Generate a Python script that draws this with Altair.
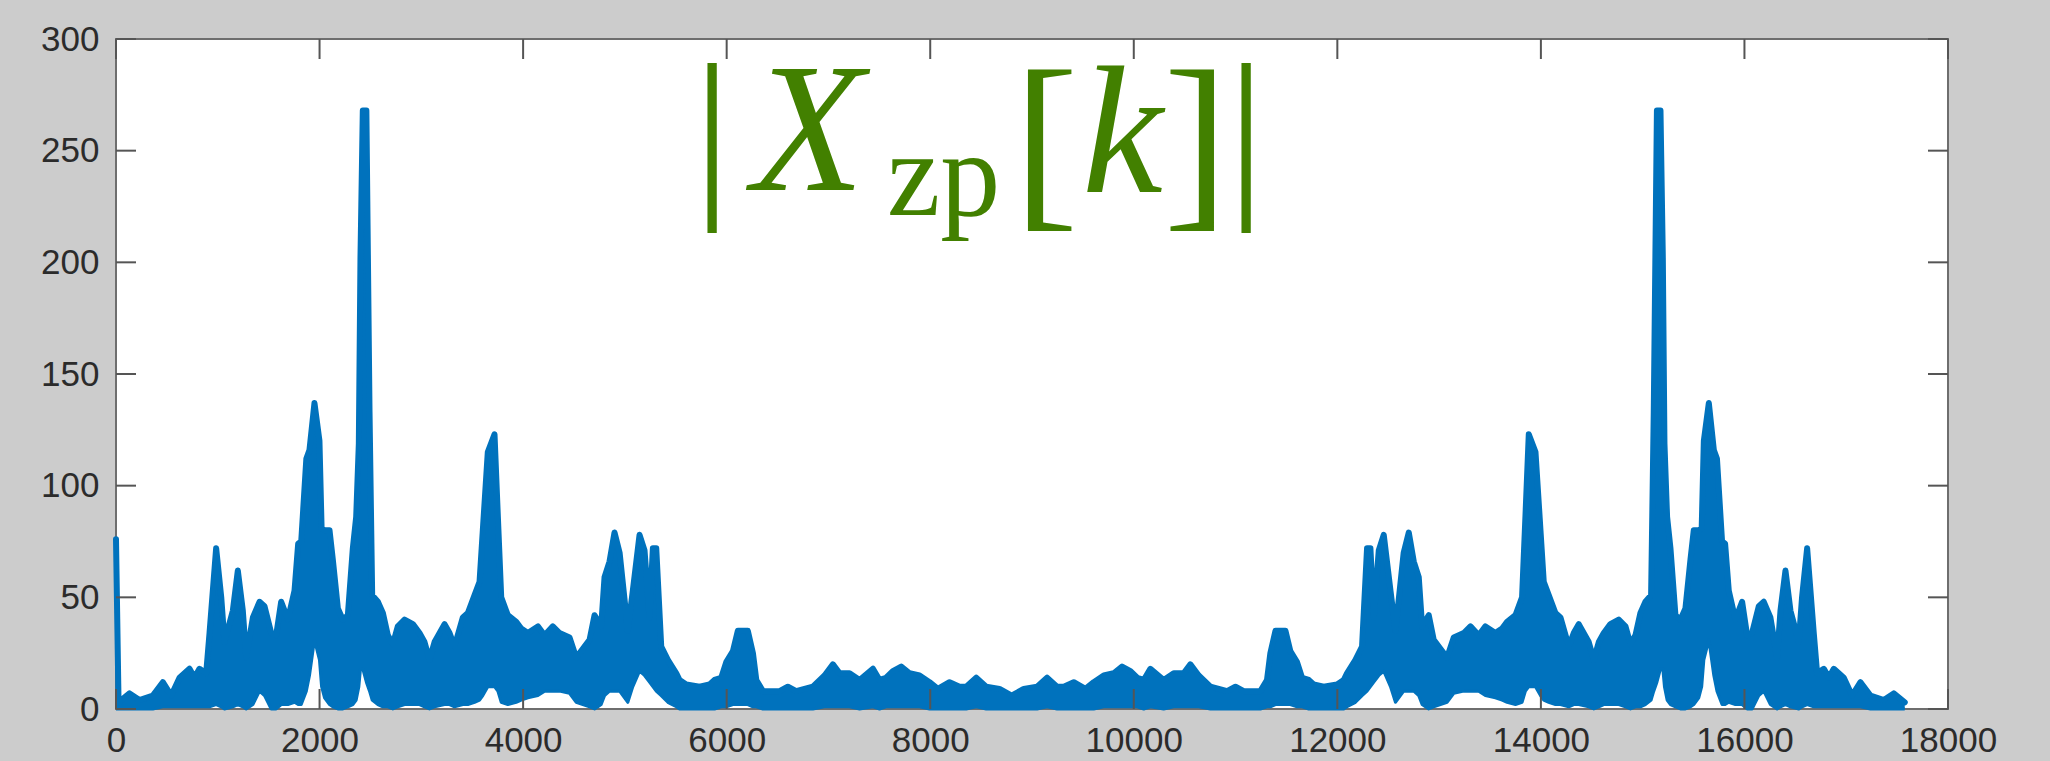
import altair as alt
import pandas as pd

# ---------------- data ----------------
N_FFT = 17600  # length of zero-padded DFT (spectrum mirrored about N/2)

# left half of |X_zp[k]| : bin index, upper and lower envelope of the dense trace
k_half = [0, 25, 133, 230, 362, 460, 543, 624, 722, 771, 820, 886, 919, 984, 1034,
          1066, 1148, 1197, 1246, 1279, 1345, 1410, 1459, 1525, 1574, 1623, 1689,
          1754, 1790, 1820, 1870, 1901, 1950, 1999, 2020, 2049, 2098, 2130, 2180, 2229, 2278, 2327,
          2360, 2386, 2402, 2425, 2460, 2491, 2517, 2573, 2622, 2671, 2720, 2769,
          2835, 2917, 2982, 3031, 3080, 3130, 3228, 3277, 3326, 3408, 3457, 3523,
          3572, 3604, 3653, 3719, 3752, 3785, 3850, 3932, 3981, 4047, 4145, 4211,
          4292, 4358, 4456, 4522, 4587, 4653, 4702, 4767, 4800, 4849, 4898, 4948,
          5029, 5078, 5144, 5193, 5242, 5275, 5308, 5357, 5422, 5505, 5537, 5603,
          5734, 5832, 5881, 5947, 5996, 6062, 6110, 6208, 6258, 6291, 6356, 6520,
          6601, 6683, 6847, 6962, 7044, 7110, 7207, 7306, 7437, 7502, 7567, 7633,
          7715, 7797, 7895, 7993, 8075, 8190, 8288, 8354, 8452, 8550, 8681, 8800]
upper_half = [76, 3, 7, 4, 6, 12, 6, 14, 18, 14, 18, 16, 34, 72, 50,
              30, 44, 62, 44, 23, 41, 48, 46, 34, 33, 48, 40,
              53, 74, 75, 112, 116, 137, 120, 81, 80, 80, 67, 45, 40, 42, 72,
              86, 119, 202, 268, 268, 133, 51, 48, 43, 33, 29, 37,
              40, 38, 34, 30, 22, 30, 38, 34, 28, 41, 43, 51,
              57, 80, 115, 123, 86, 50, 42, 39, 36, 34, 37, 33,
              37, 34, 32, 23, 27, 31, 42, 37, 59, 66, 79, 70,
              35, 53, 78, 71, 41, 72, 72, 28, 22, 16, 13, 11,
              10, 11, 13, 14, 21, 26, 35, 35, 25, 13, 8, 8,
              10, 8, 10, 15, 20, 16, 16, 13, 18, 13, 14, 17,
              19, 16, 15, 12, 9, 12, 10, 10, 14, 10, 9, 6]
lower_half = [0, 0, 0, 0, 0, 1, 1, 1, 1, 1, 1, 1, 1, 2, 1,
              0, 1, 2, 1, 0, 2, 8, 6, 0, 0, 2, 2,
              3, 2, 2, 8, 15, 31, 22, 10, 5, 2, 1, 0, 0, 1, 2,
              4, 10, 18, 18, 12, 8, 4, 2, 1, 1, 0, 1,
              2, 2, 2, 1, 0, 1, 2, 2, 1, 2, 2, 3,
              4, 6, 10, 10, 8, 3, 2, 3, 4, 5, 6, 8,
              8, 8, 7, 3, 2, 1, 0, 2, 6, 8, 8, 8,
              3, 10, 17, 15, 12, 10, 8, 6, 3, 1, 0, 0,
              0, 0, 0, 1, 1, 2, 2, 2, 1, 1, 0, 0,
              0, 0, 0, 1, 1, 1, 1, 0, 1, 0, 1, 1,
              1, 1, 1, 0, 0, 0, 0, 0, 1, 0, 0, 0]

x_tick_values = [0, 2000, 4000, 6000, 8000, 10000, 12000, 14000, 16000, 18000]
y_tick_values = [0, 50, 100, 150, 200, 250, 300]

title_parts = ["|", "X", "zp", "[", "k", "]", "|"]

# ---------------- build the full (mirrored) spectrum table ----------------
ks = list(k_half)
ups = list(upper_half)
los = list(lower_half)
for k, u, l in zip(reversed(k_half[1:-1]), reversed(upper_half[1:-1]), reversed(lower_half[1:-1])):
    ks.append(N_FFT - k)
    ups.append(u)
    los.append(l)
df = pd.DataFrame({"k": ks, "upper": ups, "lower": los})

W, H = 1832, 670
BLUE = "#0072bd"
GREEN = "#428000"
TICK = "#555555"

xs = alt.Scale(domain=[0, 18000], nice=False)
ys = alt.Scale(domain=[0, 300], nice=False)
xax = alt.Axis(values=x_tick_values, title=None, format="d")
yax = alt.Axis(values=y_tick_values, title=None, format="d")

base = alt.Chart(df)
area = base.mark_area(color=BLUE, opacity=1).encode(
    x=alt.X("k:Q", scale=xs, axis=xax),
    y=alt.Y("upper:Q", scale=ys, axis=yax),
    y2="lower:Q",
)
upper_line = base.mark_line(color=BLUE, strokeWidth=6, strokeJoin="round", strokeCap="round").encode(
    x=alt.X("k:Q", scale=xs, axis=xax),
    y=alt.Y("upper:Q", scale=ys, axis=yax),
)
lower_line = base.mark_line(color=BLUE, strokeWidth=3, strokeJoin="round").encode(
    x=alt.X("k:Q", scale=xs, axis=xax),
    y=alt.Y("lower:Q", scale=ys, axis=yax),
)

ydf = pd.DataFrame({"v": y_tick_values})
xdf = pd.DataFrame({"v": x_tick_values})
tick_left = alt.Chart(ydf).mark_rule(color=TICK, strokeWidth=2).encode(
    y=alt.Y("v:Q", scale=ys, axis=yax), x=alt.value(0), x2=alt.value(20))
tick_right = alt.Chart(ydf).mark_rule(color=TICK, strokeWidth=2).encode(
    y=alt.Y("v:Q", scale=ys, axis=yax), x=alt.value(W - 20), x2=alt.value(W))
tick_bottom = alt.Chart(xdf).mark_rule(color=TICK, strokeWidth=2).encode(
    x=alt.X("v:Q", scale=xs, axis=xax), y=alt.value(H - 20), y2=alt.value(H))
tick_top = alt.Chart(xdf).mark_rule(color=TICK, strokeWidth=2).encode(
    x=alt.X("v:Q", scale=xs, axis=xax), y=alt.value(0), y2=alt.value(20))

OX, OY = 116, 39  # plot origin on the page


def txt(s, x, y, size, italic=False, align="left"):
    props = dict(text=s, font="Liberation Serif", fontSize=size, color=GREEN,
                 align=align, baseline="alphabetic")
    if italic:
        props["fontStyle"] = "italic"
    return alt.Chart(pd.DataFrame({"d": [0]})).mark_text(**props).encode(
        x=alt.value(x - OX), y=alt.value(y - OY))


title_layers = [
    txt(title_parts[0], 712, 193, 186, align="center"),
    txt(title_parts[1], 752, 190, 184, italic=True),
    txt(title_parts[2], 887, 215, 120),
    txt(title_parts[3], 1046, 205, 195, align="center"),
    txt(title_parts[4], 1082, 192, 182, italic=True),
    txt(title_parts[5], 1196, 205, 195, align="center"),
    txt(title_parts[6], 1246, 193, 186, align="center"),
]

chart = alt.layer(
    area, upper_line, lower_line, tick_left, tick_right, tick_bottom, tick_top, *title_layers
).properties(
    width=W, height=H,
    autosize=alt.AutoSizeParams(type="none"),
    padding={"left": OX, "top": OY, "right": 2050 - OX - W, "bottom": 761 - OY - H},
    background="#cccccc",
).configure_view(
    fill="white", stroke="#6e6e6e", strokeWidth=2
).configure_axis(
    domain=False, ticks=False, tickSize=0, grid=False,
    labelFont="Liberation Sans", labelFontSize=35, labelColor="#2b2b2b",
    labelFlush=False, labelOverlap=False,
).configure_axisX(labelPadding=14).configure_axisY(labelPadding=17)

chart.save("out.html", embed_options={"renderer": "svg", "actions": False})
